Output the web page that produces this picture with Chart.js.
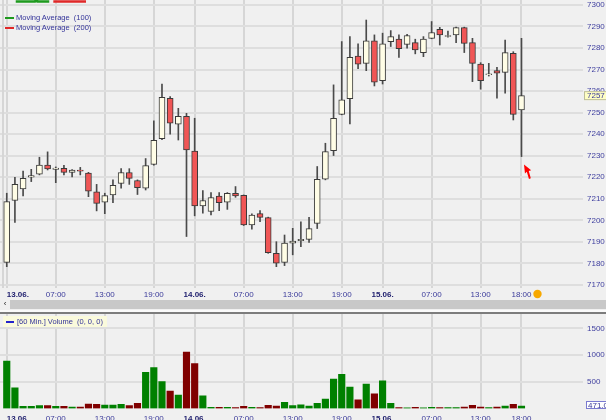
<!DOCTYPE html>
<html>
<head>
<meta charset="utf-8">
<script src="https://cdn.jsdelivr.net/npm/chart.js@4.4.1/dist/chart.umd.min.js"></script>
<style>
  html, body { margin: 0; padding: 0; background: #f0f0f0; }
  body { width: 606px; height: 420px; position: relative; overflow: hidden; font-family: "Liberation Sans", Arial, sans-serif; }
  canvas { position: absolute; left: 0; }
  #main { top: 0; }
  #vol { top: 314px; }
  .legend { position: absolute; left: 16px; top: 13px; font-size: 7.5px; line-height: 10px; color: #333399; }
  .legend div { position: relative; white-space: pre; }
  .legend i { position: absolute; left: -11px; top: 4px; width: 9px; height: 2px; }
  #scroll { position: absolute; left: 10px; top: 300px; width: 596px; height: 9px; background: #c8c8c8; }
  #scrollLeft { position: absolute; left: 0; top: 299px; width: 10px; height: 10px; font-size: 8px; line-height: 10px; color: #222; text-align: center; }
  #whiteLine { position: absolute; left: 0; top: 310px; width: 606px; height: 2px; background: #fafafa; }
  #sep { position: absolute; left: 0; top: 312px; width: 606px; height: 2px; background: #7c7c7c; }
  #volLabel { position: absolute; left: 3px; top: 316px; height: 11px; padding: 0 4px 0 14px; background: #fafadc; font-size: 7.5px; line-height: 11px; color: #333399; white-space: pre; }
  #volLabel i { position: absolute; left: 3px; top: 5px; width: 8px; height: 1.5px; background: #2222cc; }
</style>
</head>
<body>
<canvas id="main" width="606" height="300"></canvas>
<canvas id="vol" width="606" height="106"></canvas>
<div class="legend">
  <div><i style="background:#1e9a1e"></i>Moving Average  (100)</div>
  <div><i style="background:#e02828"></i>Moving Average  (200)</div>
</div>
<div id="scrollLeft">&lsaquo;</div>
<div id="scroll"></div>
<div id="whiteLine"></div>
<div id="sep"></div>
<div id="volLabel"><i></i>[60 Min.] Volume  (0, 0, 0)</div>

<script>
// hourly candles, 13.06. 01:00 -> 15.06. 18:00
const opens  = [7180.5, 7209.2, 7214.6, 7220.0, 7221.5, 7225.7, 7223.7, 7224.2, 7222.3, 7223.4,
                7221.9, 7213.2, 7208.4, 7211.8, 7217.1, 7222.2, 7218.5, 7214.9, 7226.0, 7237.9,
                7256.7, 7244.6, 7248.3, 7232.2, 7206.7, 7204.1, 7211.3, 7208.4, 7212.6, 7211.6,
                7197.9, 7203.1, 7201.3, 7184.7, 7180.5, 7189.4, 7190.6, 7191.2, 7198.6, 7219.1,
                7232.4, 7249.2, 7256.5, 7276.3, 7272.9, 7283.4, 7264.9, 7283.0, 7284.1, 7281.7,
                7282.5, 7277.9, 7284.5, 7288.7, 7285.4, 7286.1, 7289.5, 7282.5, 7272.5, 7267.6,
                7269.5, 7268.7, 7277.6, 7251.3];
const highs  = [7212.6, 7220.0, 7222.9, 7223.7, 7229.3, 7231.8, 7224.8, 7225.5, 7223.6, 7224.6,
                7222.3, 7216.7, 7212.6, 7218.8, 7224.0, 7224.0, 7218.8, 7228.7, 7246.2, 7263.3,
                7257.5, 7252.0, 7249.7, 7247.4, 7213.8, 7212.9, 7212.9, 7212.9, 7215.7, 7211.8,
                7203.0, 7204.5, 7201.5, 7190.1, 7193.2, 7196.3, 7199.3, 7201.4, 7225.0, 7235.8,
                7262.9, 7283.0, 7285.3, 7281.9, 7293.0, 7286.1, 7286.9, 7288.1, 7286.1, 7286.4,
                7284.1, 7285.3, 7292.3, 7289.6, 7287.9, 7289.7, 7289.7, 7284.5, 7273.2, 7272.9,
                7271.1, 7283.7, 7278.3, 7284.5];
const lows   = [7178.5, 7199.1, 7211.3, 7218.0, 7221.1, 7223.4, 7217.5, 7221.1, 7220.2, 7221.1,
                7211.0, 7204.4, 7203.1, 7208.2, 7214.9, 7216.7, 7212.0, 7214.1, 7225.6, 7237.5,
                7240.0, 7237.3, 7192.5, 7202.1, 7203.3, 7202.5, 7204.5, 7205.1, 7210.7, 7197.6,
                7195.9, 7199.4, 7184.7, 7178.5, 7179.0, 7184.0, 7187.8, 7189.8, 7196.2, 7218.8,
                7230.1, 7249.0, 7244.8, 7270.4, 7269.5, 7262.4, 7263.3, 7280.7, 7275.7, 7279.9,
                7277.3, 7276.0, 7284.3, 7281.4, 7285.0, 7282.5, 7277.9, 7264.4, 7260.9, 7267.0,
                7256.7, 7259.0, 7246.6, 7229.6];
const closes = [7208.7, 7216.7, 7219.5, 7220.8, 7225.7, 7223.9, 7224.3, 7222.3, 7223.4, 7222.8,
                7213.5, 7207.9, 7211.5, 7216.3, 7222.2, 7219.5, 7215.2, 7225.4, 7237.2, 7257.1,
                7245.1, 7248.3, 7232.7, 7206.7, 7209.2, 7210.6, 7208.2, 7212.6, 7211.3, 7197.9,
                7202.5, 7201.4, 7185.0, 7180.1, 7189.4, 7190.4, 7191.2, 7196.2, 7219.1, 7231.9,
                7247.4, 7255.9, 7275.7, 7272.5, 7283.4, 7264.1, 7281.9, 7285.3, 7279.7, 7285.8,
                7279.1, 7284.1, 7287.2, 7286.1, 7285.8, 7289.5, 7282.2, 7272.9, 7264.9, 7268.0,
                7268.3, 7277.9, 7249.2, 7257.9];
const volumes = [887, 385, 39, 39, 51, 51, 39, 39, 26, 26,
                 82, 76, 63, 63, 76, 51, 94, 677, 763, 503,
                 323, 249, 1055, 838, 237, 20, 20, 20, 14, 39,
                 20, 14, 57, 45, 113, 55, 69, 45, 94, 175,
                 547, 640, 398, 162, 454, 274, 516, 94, 14, 10,
                 20, 10, 20, 14, 14, 14, 26, 57, 26, 14,
                 26, 45, 76, 45];

// visible pieces of the two moving averages at the top edge (bar index, price)
const ma100 = [{x: 1.1, y: 7301.6}, {x: 3.45, y: 7301.6}, {x: 3.65, y: 7303}, {x: 3.75, y: 7301.6}, {x: 5.2, y: 7301.6}];
const ma200 = [{x: 5.7, y: 7301.6}, {x: 9.7, y: 7301.6}];

const tickIdx    = [0, 6, 12, 18, 23, 29, 35, 41, 46, 52, 58, 63];
const tickLabels = ['13.06.', '07:00', '13:00', '19:00', '14.06.', '07:00', '13:00', '19:00', '15.06.', '07:00', '13:00', '18:00'];
const priceTicks = [7170, 7180, 7190, 7200, 7210, 7220, 7230, 7240, 7250, 7260, 7270, 7280, 7290, 7300];
const volTicks   = [500, 1000, 1500];
const volMarker  = '471.0';

const FONT = '"Liberation Sans", Arial, sans-serif';
const idx = opens.map((_, i) => i);
const up = i => closes[i] >= opens[i];

function drawTimeLabels(chart, y) {
    const ctx = chart.ctx;
    const xs = chart.scales.x;
    ctx.save();
    ctx.textBaseline = 'middle';
    tickIdx.forEach((t, i) => {
        const label = tickLabels[i];
        const isDate = label.indexOf('.') > 0;
        ctx.font = (isDate ? 'bold ' : '') + '8px ' + FONT;
        ctx.fillStyle = isDate ? '#1c1c6c' : '#3a3a9a';
        ctx.textAlign = i === 0 ? 'left' : 'center';
        ctx.fillText(label, xs.getPixelForValue(t), y);
    });
    ctx.restore();
}

const mainExtras = {
    id: 'mainExtras',
    beforeDatasetsDraw(chart) {
        const ctx = chart.ctx, a = chart.chartArea;
        ctx.save();
        ctx.fillStyle = '#d6d6d6';
        ctx.fillRect(a.left + 2, a.top, 2, a.bottom - a.top);
        ctx.restore();
    },
    afterDraw(chart) {
        const ctx = chart.ctx;
        const xs = chart.scales.x, ys = chart.scales.y;
        drawTimeLabels(chart, 295);

        // session marker after the last time label
        ctx.save();
        ctx.font = '8px ' + FONT;
        const lastX = xs.getPixelForValue(tickIdx[tickIdx.length - 1]);
        const w = ctx.measureText(tickLabels[tickLabels.length - 1]).width;
        ctx.fillStyle = '#f7a800';
        ctx.beginPath();
        ctx.arc(lastX + w / 2 + 6, 294, 4.2, 0, Math.PI * 2);
        ctx.fill();

        // last price box
        const last = closes.length - 1;
        const py = ys.getPixelForValue(closes[last]);
        ctx.fillStyle = '#ffffc4';
        ctx.strokeStyle = '#bdbd9a';
        ctx.lineWidth = 1;
        ctx.fillRect(584, py - 4.5, 22, 9);
        ctx.strokeRect(584.5, py - 4, 22, 8);
        ctx.fillStyle = '#3a3a9a';
        ctx.textBaseline = 'middle';
        ctx.textAlign = 'left';
        ctx.fillText(String(Math.floor(closes[last])), 587, py + 0.5);

        // mouse pointer below the last candle
        const cx = xs.getPixelForValue(last) + 2.5;
        const cy = ys.getPixelForValue(lows[last]) + 8;
        ctx.fillStyle = '#ff0000';
        ctx.beginPath();
        ctx.moveTo(cx, cy);
        ctx.lineTo(cx + 1, cy + 9);
        ctx.lineTo(cx + 2.8, cy + 7.2);
        ctx.lineTo(cx + 5, cy + 14.5);
        ctx.lineTo(cx + 6.8, cy + 13.6);
        ctx.lineTo(cx + 4.8, cy + 6.4);
        ctx.lineTo(cx + 7.2, cy + 5.6);
        ctx.closePath();
        ctx.fill();
        ctx.restore();
    }
};

const volExtras = {
    id: 'volExtras',
    afterDraw(chart) {
        const ctx = chart.ctx;
        const ys = chart.scales.y;
        drawTimeLabels(chart, 105);
        const vy = ys.getPixelForValue(volumes[volumes.length - 1]) - 1;
        ctx.save();
        ctx.fillStyle = '#ffffff';
        ctx.strokeStyle = '#7a7ad0';
        ctx.lineWidth = 1;
        ctx.fillRect(586, vy - 4, 22, 8);
        ctx.strokeRect(586.5, vy - 3.5, 22, 7);
        ctx.fillStyle = '#3a3a9a';
        ctx.font = '8px ' + FONT;
        ctx.textBaseline = 'middle';
        ctx.fillText(volMarker, 588, vy + 0.5);
        ctx.restore();
    }
};

function xScale(bottomHeight) {
    return {
        type: 'linear',
        offset: false,
        min: -0.826,
        max: 70.53,
        afterBuildTicks: s => { s.ticks = tickIdx.map(v => ({ value: v })); },
        ticks: { display: false },
        grid: { color: '#d6d6d6', lineWidth: 2, drawTicks: false, offset: false },
        border: { display: false },
        afterFit: s => { s.height = bottomHeight; s.paddingLeft = 0; s.paddingRight = 0; }
    };
}

function yScale(min, max, ticks) {
    return {
        position: 'right',
        min: min,
        max: max,
        afterBuildTicks: s => { s.ticks = ticks.map(v => ({ value: v })); },
        ticks: { color: '#3f3f9f', font: { size: 8, family: FONT }, padding: 4, callback: v => String(v) },
        grid: { color: '#dedede', lineWidth: 2, drawTicks: false },
        border: { display: false },
        afterFit: s => { s.width = 23; s.paddingTop = 0; s.paddingBottom = 0; }
    };
}

new Chart(document.getElementById('main'), {
    type: 'bar',
    data: {
        datasets: [
            {
                type: 'line',
                data: ma100,
                borderColor: '#1e9a1e',
                borderWidth: 2.5,
                pointRadius: 0,
                order: 0
            },
            {
                type: 'line',
                data: ma200,
                borderColor: '#e02828',
                borderWidth: 2.5,
                pointRadius: 0,
                order: 0
            },
            {
                data: idx.map(i => ({ x: i, y: [lows[i], highs[i]] })),
                backgroundColor: '#4a4a4a',
                barThickness: 1,
                grouped: false,
                order: 2
            },
            {
                data: idx.map(i => ({ x: i, y: [opens[i], closes[i]] })),
                backgroundColor: idx.map(i => up(i) ? '#fffde6' : '#f05656'),
                borderColor: '#3a3a3a',
                borderWidth: 1,
                borderSkipped: false,
                barThickness: 6,
                grouped: false,
                order: 1
            }
        ]
    },
    options: {
        responsive: false,
        animation: false,
        layout: { padding: 0 },
        plugins: { legend: { display: false }, tooltip: { enabled: false } },
        scales: {
            x: xScale(12),
            y: yScale(7168.6, 7302.3, priceTicks)
        }
    },
    plugins: [mainExtras]
});

new Chart(document.getElementById('vol'), {
    type: 'bar',
    data: {
        datasets: [
            {
                data: idx.map(i => ({ x: i, y: volumes[i] })),
                backgroundColor: idx.map(i => up(i) ? '#008000' : '#800000'),
                barThickness: 6.5,
                grouped: false
            }
        ]
    },
    options: {
        responsive: false,
        animation: false,
        layout: { padding: 0 },
        plugins: { legend: { display: false }, tooltip: { enabled: false } },
        scales: {
            x: xScale(11.6),
            y: yScale(0, 1768, volTicks)
        }
    },
    plugins: [volExtras]
});
</script>
</body>
</html>
